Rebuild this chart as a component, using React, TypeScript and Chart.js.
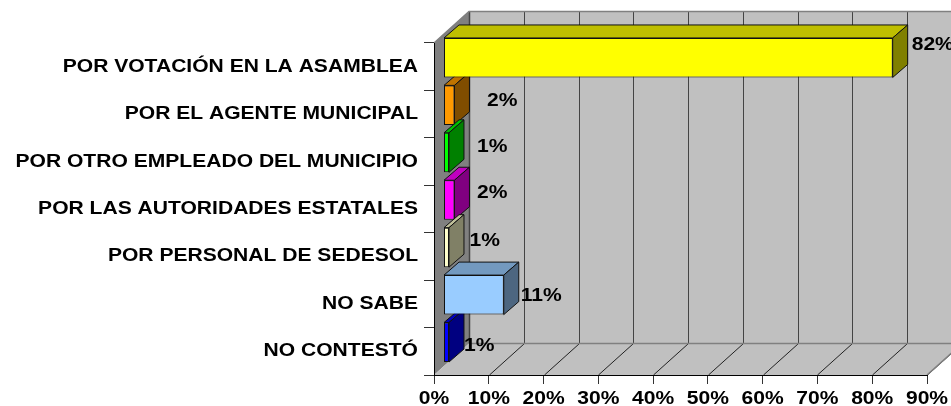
import React, { useEffect, useRef } from "react";
import { Chart, registerables } from "chart.js";

Chart.register(...registerables);

const categories = [
  "POR VOTACIÓN EN LA ASAMBLEA",
  "POR EL AGENTE MUNICIPAL",
  "POR OTRO EMPLEADO DEL MUNICIPIO",
  "POR LAS AUTORIDADES ESTATALES",
  "POR PERSONAL DE SEDESOL",
  "NO SABE",
  "NO CONTESTÓ",
];
const values = [82, 2, 1, 2, 1, 11, 1];
const barColors = ["#ffff00", "#ff9900", "#00ff00", "#ff00ff", "#ffffcc", "#99ccff", "#0000ff"];
const xTicks = [0, 10, 20, 30, 40, 50, 60, 70, 80, 90];

const FONT = "bold 18px 'Liberation Sans', Arial, sans-serif";
const WALL_DX = 35;
const WALL_DY = 31.5;
const BAR_SHIFT_X = 9.5;
const BAR_SHIFT_Y = -9;
const DEPTH_X = 15;
const DEPTH_Y = 13;
const TEXT_STRETCH = 1.17;
// label anchor offsets from the bar's right front edge: dx, dy
const labelOffsets = [[19, -13], [32.5, -4], [28, -6], [22.5, -6.5], [20.5, -6], [17, 1], [15, 3.5]];

function shade(hex: string, k: number) {
  const n = parseInt(hex.slice(1), 16);
  const c = [(n >> 16) & 255, (n >> 8) & 255, n & 255].map((v) => Math.round(v * k));
  return `rgb(${c[0]},${c[1]},${c[2]})`;
}

function poly(ctx: CanvasRenderingContext2D, pts: number[][], fill: string | null, stroke: string | null, lw = 1) {
  ctx.beginPath();
  pts.forEach((p, i) => (i ? ctx.lineTo(p[0], p[1]) : ctx.moveTo(p[0], p[1])));
  if (fill) {
    ctx.closePath();
    ctx.fillStyle = fill;
    ctx.fill();
  }
  if (stroke) {
    ctx.strokeStyle = stroke;
    ctx.lineWidth = lw;
    ctx.stroke();
  }
}

function stretchedText(ctx: CanvasRenderingContext2D, text: string, x: number, y: number, align: "left" | "right" | "center") {
  ctx.save();
  ctx.translate(x, y);
  ctx.scale(TEXT_STRETCH, 1);
  ctx.font = FONT;
  ctx.fillStyle = "#000";
  ctx.textAlign = align;
  ctx.textBaseline = "middle";
  ctx.fillText(text, 0, 0);
  ctx.restore();
}

const scene3d = {
  id: "scene3d",
  beforeDraw(chart: any) {
    const { ctx, chartArea: a, scales } = chart;
    const { left: l, right: r, top: t, bottom: b } = a;
    ctx.save();
    ctx.fillStyle = "#fff";
    ctx.fillRect(0, 0, chart.width, chart.height);
    const bl = l + WALL_DX, bt = t - WALL_DY, bb = b - WALL_DY, br = r + WALL_DX;
    poly(ctx, [[bl, bt], [br, bt], [br, bb], [bl, bb]], "#c0c0c0", null);
    poly(ctx, [[l, t], [bl, bt], [bl, bb], [l, b]], "#808080", null);
    poly(ctx, [[l, b], [bl, bb], [br, bb], [r, b]], "#c0c0c0", null);
    xTicks.forEach((v) => {
      const x = Math.round(scales.x.getPixelForValue(v)) + 0.5;
      if (v > 0) poly(ctx, [[x, b], [x + WALL_DX, bb]], null, "#222");
      poly(ctx, [[x + WALL_DX, bt], [x + WALL_DX, bb]], null, "#444", v === 0 ? 1.5 : 1);
    });
    poly(ctx, [[l, t], [bl, bt], [br, bt]], null, "#808080", 1.5);
    poly(ctx, [[bl, bb], [br, bb]], null, "#808080", 1.5);
    poly(ctx, [[r, b], [br, bb]], null, "#808080", 1.5);
    ctx.restore();
  },
  beforeDatasetsDraw(chart: any) {
    const { ctx } = chart;
    const meta = chart.getDatasetMeta(0);
    ctx.save();
    ctx.translate(BAR_SHIFT_X, BAR_SHIFT_Y);
    meta.data.forEach((bar: any, i: number) => {
      const p = bar.getProps(["x", "y", "base", "height"], true);
      const top = p.y - p.height / 2, bottom = p.y + p.height / 2;
      const c = barColors[i];
      const e = "#111";
      poly(ctx, [[p.base, top], [p.base + DEPTH_X, top - DEPTH_Y], [p.x + DEPTH_X, top - DEPTH_Y], [p.x, top]], shade(c, 0.75), e);
      poly(ctx, [[p.x, top], [p.x + DEPTH_X, top - DEPTH_Y], [p.x + DEPTH_X, bottom - DEPTH_Y], [p.x, bottom]], shade(c, 0.5), e);
    });
    ctx.restore();
    ctx.save();
    ctx.translate(BAR_SHIFT_X, BAR_SHIFT_Y);
  },
  afterDatasetsDraw(chart: any) {
    const { ctx, scales } = chart;
    ctx.restore();
    const meta = chart.getDatasetMeta(0);
    meta.data.forEach((bar: any, i: number) => {
      const p = bar.getProps(["x", "y"], true);
      const o = labelOffsets[i];
      stretchedText(ctx, `${values[i]}%`, p.x + BAR_SHIFT_X + o[0], p.y + BAR_SHIFT_Y + o[1], "left");
    });
    categories.forEach((c, i) => {
      stretchedText(ctx, c, chart.chartArea.left - 16, scales.y.getPixelForValue(i), "right");
    });
    xTicks.forEach((v) => {
      stretchedText(ctx, `${v}%`, scales.x.getPixelForValue(v), 399.5, "center");
    });
  },
};

export default function App() {
  const ref = useRef<HTMLCanvasElement>(null);
  useEffect(() => {
    const chart = new Chart(ref.current!, {
      type: "bar",
      data: {
        labels: categories,
        datasets: [
          {
            data: values,
            backgroundColor: barColors,
            borderColor: "#111",
            borderWidth: 1,
            borderSkipped: false,
            barPercentage: 0.833,
            categoryPercentage: 1,
            clip: false as any,
          },
        ],
      },
      options: {
        indexAxis: "y",
        animation: false,
        responsive: false,
        layout: { padding: { top: 43, right: 24, left: 0, bottom: 0 } },
        plugins: { legend: { display: false }, title: { display: false }, tooltip: { enabled: false } },
        scales: {
          x: {
            type: "linear",
            min: 0,
            max: 90,
            afterFit: (s: any) => { s.height = 31; },
            ticks: { stepSize: 10, display: false, autoSkip: false },
            grid: { drawOnChartArea: false, drawTicks: true, tickLength: 9, color: "#333" },
            border: { color: "#000" },
          },
          y: {
            type: "category",
            afterFit: (s: any) => { s.width = 434; },
            ticks: { display: false },
            grid: { drawOnChartArea: false, drawTicks: true, tickLength: 10, offset: true, color: "#333" },
            border: { color: "#000" },
          },
        },
      },
      plugins: [scene3d],
    } as any);
    return () => chart.destroy();
  }, []);
  return (
    <canvas
      ref={ref}
      width={951}
      height={406}
      style={{ position: "fixed", left: 0, top: 0, width: 951, height: 406, display: "block" }}
    />
  );
}
